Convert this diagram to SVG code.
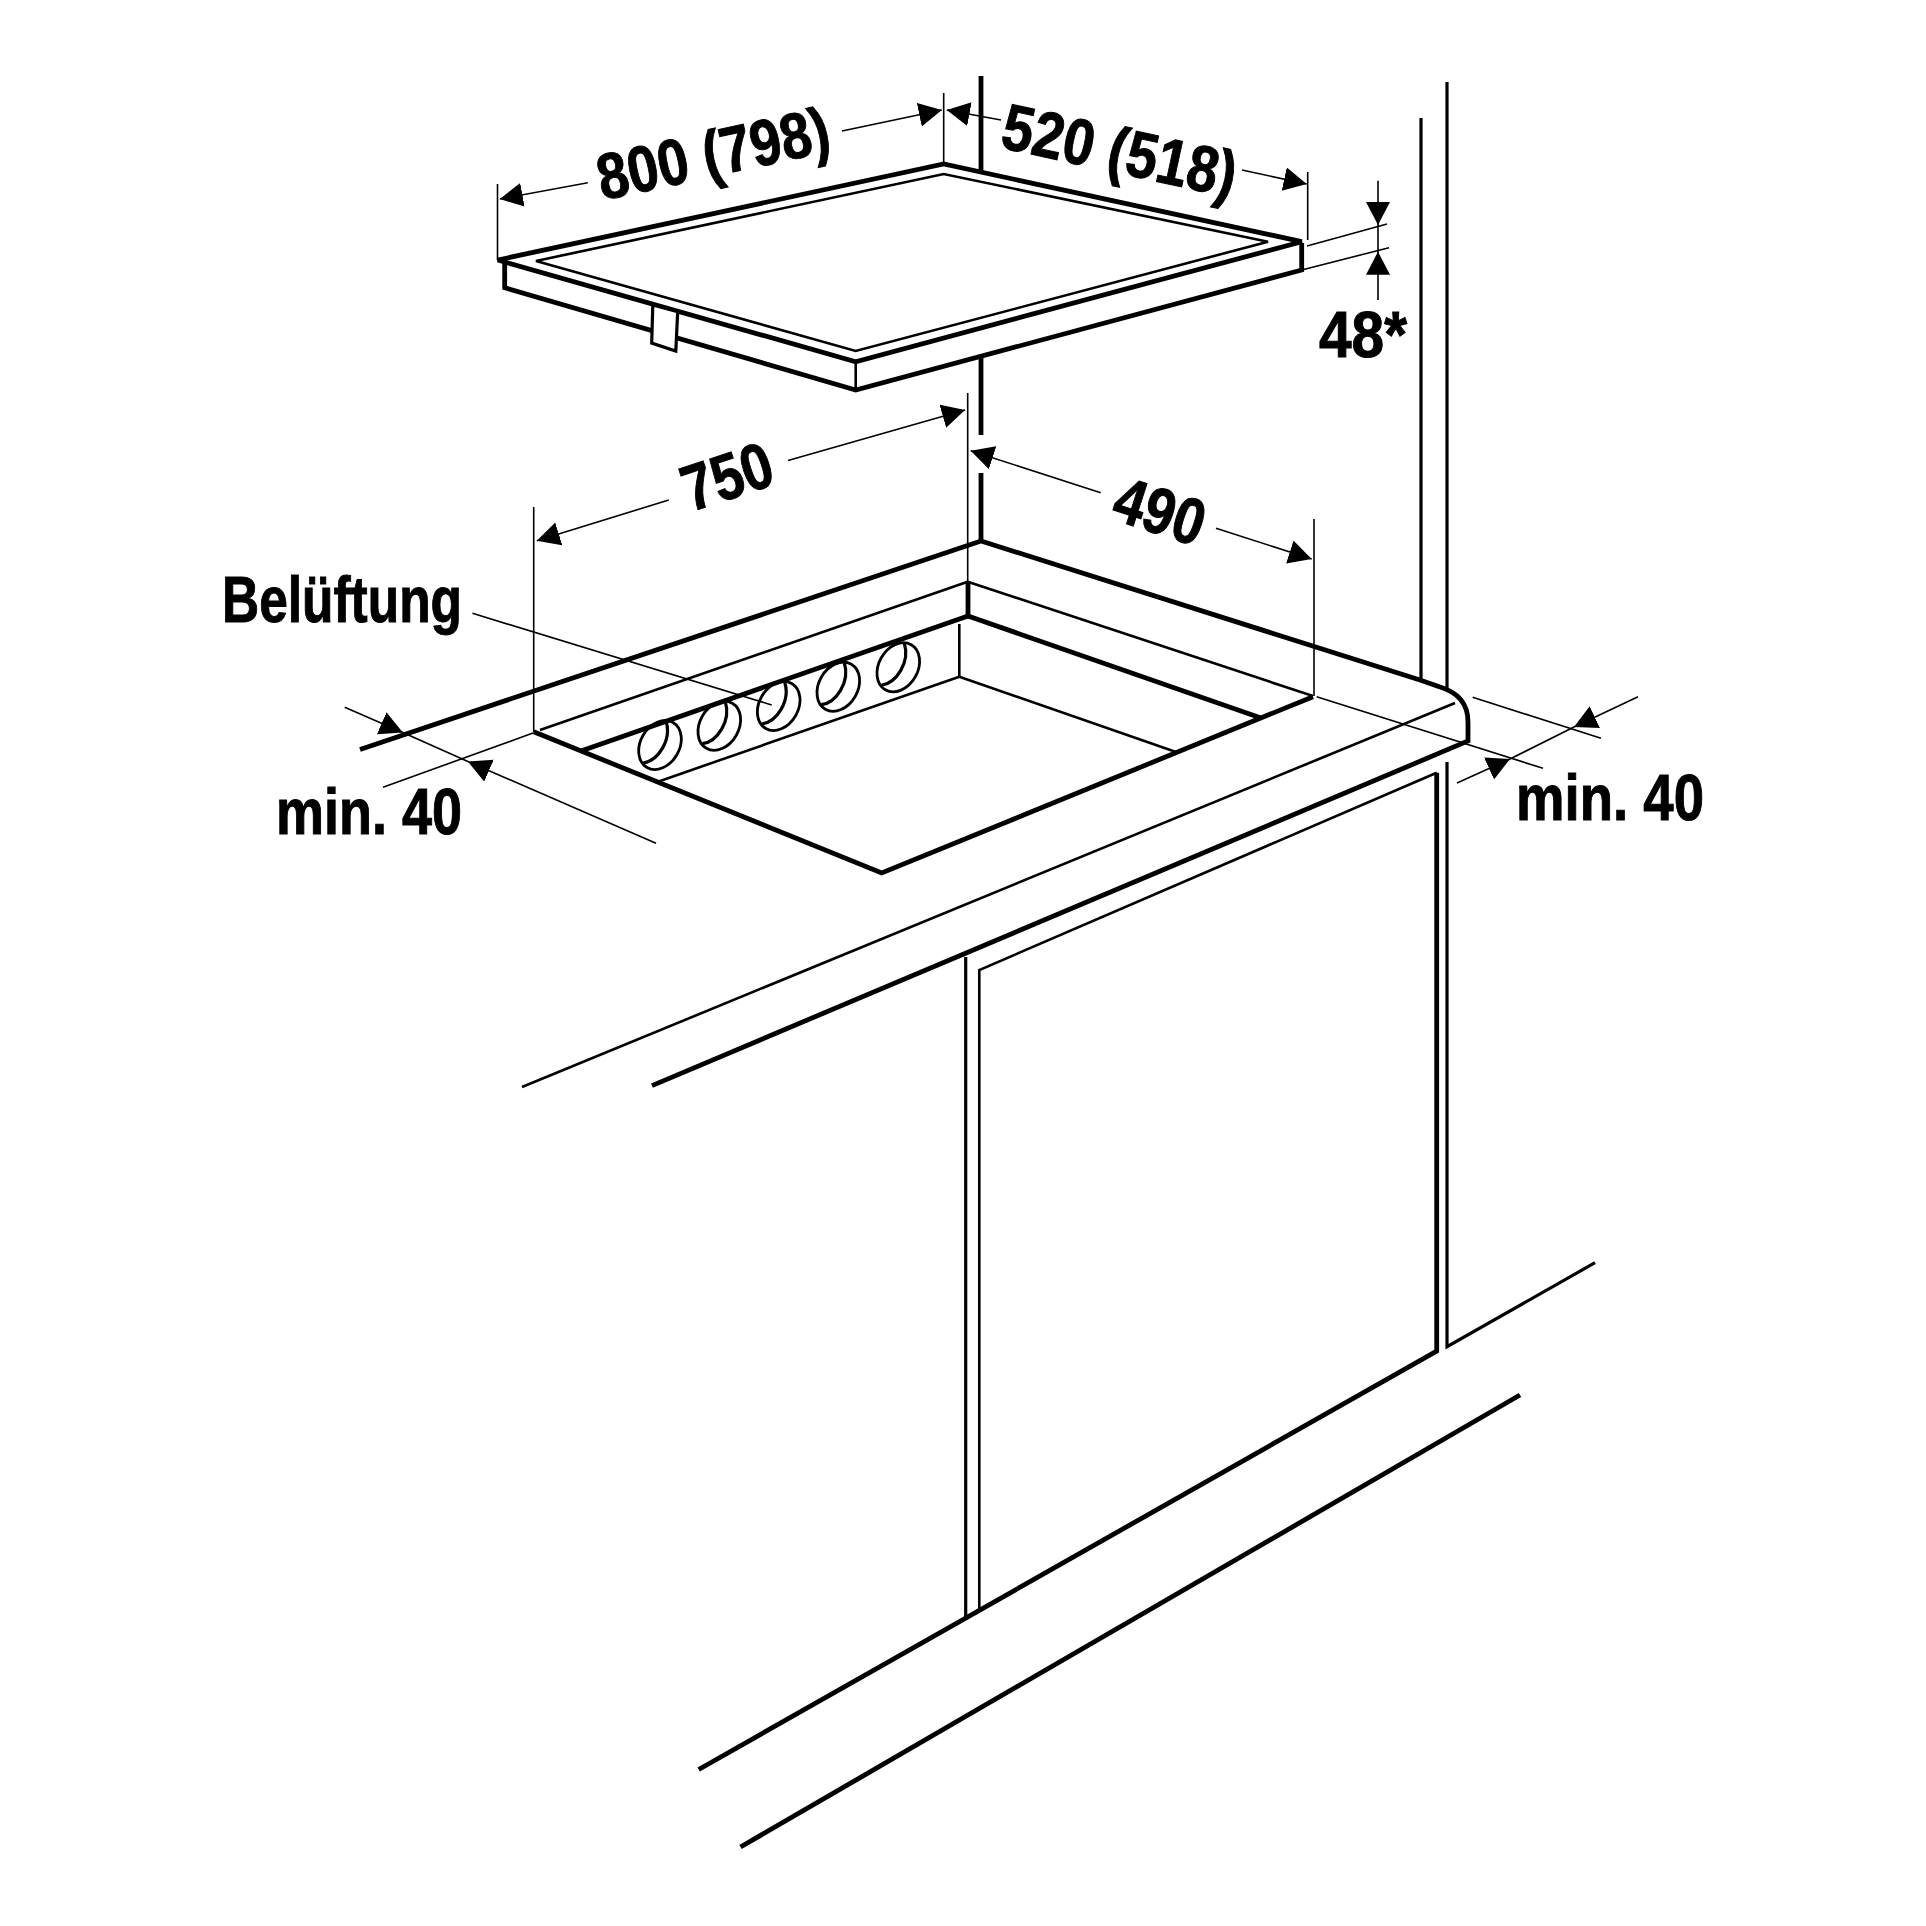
<svg xmlns="http://www.w3.org/2000/svg" width="1926" height="1926" viewBox="0 0 1926 1926">
<style>
.bg{fill:#fff}
path,line,polyline,polygon,ellipse{fill:none;stroke:#000;stroke-linecap:butt;stroke-linejoin:miter}
.k{stroke-width:4.8}
.m{stroke-width:3.2}
.s{stroke-width:2.6}
.d{stroke-width:1.6}
.a{marker-end:url(#arrow)}
.w{fill:#fff}
text{font-family:"Liberation Sans Narrow","Liberation Sans",Arial,sans-serif;font-weight:700;font-size:65px;fill:#000;stroke:#000;stroke-width:1}
</style>
<defs>
<marker id="arrow" markerUnits="userSpaceOnUse" markerWidth="26" markerHeight="26" refX="23" refY="12" orient="auto" viewBox="0 0 26 26"><path d="M0,0L23,12L0,24Z" style="fill:#000;stroke:none"/></marker>
<g id="hole"><ellipse cx="0" cy="0" rx="26" ry="19.5" transform="rotate(-60)" class="s" style="stroke-width:2.8"/><path d="M-17,18C-2,16 12,-5 6,-24" class="m"/></g>
</defs>
<rect class="bg" width="1926" height="1926"/>
<g id="hob">
<path class="k" d="M497.8,260L943.7,164L1301.7,241.7L855.7,361.7Z"/>
<path class="s" d="M536,261L943.7,174L1268,241.7L855.7,351Z"/>
<path class="k" d="M504.7,263V287.7L855.7,390L1301.7,270V243"/>
<line class="s" x1="855.7" y1="362" x2="855.7" y2="390"/>
<polygon class="m w" points="652.8,305 651.7,343 675.8,351 677.7,311.7"/>
</g>
<g id="walls">
<line class="k" x1="981" y1="76" x2="981" y2="171"/>
<line class="k" x1="981" y1="357" x2="981" y2="435"/>
<line class="k" x1="981" y1="473" x2="981" y2="541"/>
<line class="m" x1="1421" y1="118" x2="1421" y2="680"/>
<line class="m" x1="1447" y1="82" x2="1447" y2="689"/>
<path class="m" d="M1447,762V1346.7L1595,1262.7"/>
</g>
<g id="worktop">
<path class="k" d="M360,749.5L981,541L1420,680L1440,687C1457,692 1468,702 1468,722L1468,741L652,1085.6"/>
<line class="s" x1="1455" y1="703" x2="522" y2="1087"/>
<line class="s" x1="540" y1="730" x2="967.7" y2="581.7"/>
<line class="s" x1="967.7" y1="581.7" x2="1313" y2="696"/>
<line class="k" x1="968" y1="582" x2="968" y2="616"/>
</g>
<g id="cutout">
<path class="k" d="M533.7,731.7L881.7,873L1313,696.7"/>
<line class="k" x1="581.7" y1="750.7" x2="968" y2="616"/>
<line class="k" x1="968" y1="616" x2="1261.7" y2="718.3"/>
<line class="s" x1="658" y1="781.7" x2="959.3" y2="676.7"/>
<line class="s" x1="959.3" y1="676.7" x2="1176" y2="752"/>
<line class="s" x1="959.3" y1="624" x2="959.3" y2="676.7"/>
</g>
<g id="vents">
<use href="#hole" x="660" y="745"/>
<use href="#hole" x="719.3" y="725.7"/>
<use href="#hole" x="778.7" y="706"/>
<use href="#hole" x="838.3" y="686.7"/>
<use href="#hole" x="898.3" y="667.3"/>
</g>
<g id="cabinet">
<path class="k" d="M1436.7,772.7V1351L698.7,1769.5"/>
<path class="s" d="M1436.7,772.7L979.3,970V1610"/>
<line class="m" x1="965.7" y1="957" x2="965.7" y2="1617"/>
<line class="k" x1="1520" y1="1395" x2="740.5" y2="1847"/>
</g>
<g id="connectors">
<line class="d" x1="497.5" y1="184" x2="497.5" y2="260"/>
<line class="d" x1="943.7" y1="93" x2="943.7" y2="163"/>
<line class="d" x1="1307.7" y1="172" x2="1307.7" y2="240"/>
<line class="d" x1="1307" y1="246" x2="1387" y2="224"/>
<line class="d" x1="1301.7" y1="270" x2="1389" y2="247.7"/>
<line class="d" x1="967.7" y1="393" x2="967.7" y2="582"/>
<line class="d" x1="533.7" y1="507" x2="533.7" y2="732"/>
<line class="d" x1="1314" y1="519" x2="1314" y2="696"/>
<line class="d" x1="383" y1="787.3" x2="533" y2="733"/>
<line class="d" x1="1316.7" y1="696.7" x2="1543" y2="768.3"/>
<line class="d" x1="1472.7" y1="697.3" x2="1601" y2="738.3"/>
<line class="d" x1="472.5" y1="613.3" x2="771.7" y2="705"/>
<line class="d a" x1="587.8" y1="182.7" x2="499.8" y2="199"/>
<line class="d a" x1="842" y1="131" x2="941.8" y2="110"/>
<line class="d a" x1="1001" y1="120" x2="946.8" y2="110"/>
<line class="d a" x1="1242" y1="170" x2="1306.7" y2="184"/>
<line class="d a" x1="668.8" y1="500" x2="536.8" y2="540.7"/>
<line class="d a" x1="788" y1="460.5" x2="965" y2="410"/>
<line class="d a" x1="1100.7" y1="492.7" x2="970.7" y2="450.7"/>
<line class="d a" x1="1216" y1="528.3" x2="1311.7" y2="559"/>
<line class="d a" x1="1378" y1="180.7" x2="1378" y2="225"/>
<line class="d a" x1="1378" y1="300" x2="1378" y2="251.7"/>
<line class="d" x1="1378" y1="225" x2="1378" y2="252"/>
<line class="d a" x1="344.7" y1="707.3" x2="402.8" y2="732.5"/>
<line class="d" x1="402.8" y1="732.5" x2="467.9" y2="761.5"/>
<line class="d a" x1="656" y1="843.3" x2="467.9" y2="761.5"/>
<line class="d a" x1="1457" y1="783" x2="1510" y2="759"/>
<line class="d" x1="1510" y1="759" x2="1574" y2="727"/>
<line class="d a" x1="1638" y1="696.7" x2="1574" y2="727"/>
</g>
<g id="labels">
<text transform="translate(713,153) rotate(-12.2)" y="23" text-anchor="middle" textLength="236" lengthAdjust="spacingAndGlyphs">800 (798)</text>
<text transform="translate(1120,150) rotate(12.2)" y="23" text-anchor="middle" textLength="238" lengthAdjust="spacingAndGlyphs">520 (518)</text>
<text x="1319" y="357" textLength="88" lengthAdjust="spacingAndGlyphs">48*</text>
<text transform="translate(727,476) rotate(-18.4)" y="23" text-anchor="middle" textLength="92" lengthAdjust="spacingAndGlyphs">750</text>
<text transform="translate(1160,510.7) rotate(18)" y="23" text-anchor="middle" textLength="92" lengthAdjust="spacingAndGlyphs">490</text>
<text x="222" y="621.7" textLength="240" lengthAdjust="spacingAndGlyphs">Belüftung</text>
<text x="276" y="834" textLength="186" lengthAdjust="spacingAndGlyphs">min. 40</text>
<text x="1516" y="820" textLength="188" lengthAdjust="spacingAndGlyphs">min. 40</text>
</g>
</svg>
